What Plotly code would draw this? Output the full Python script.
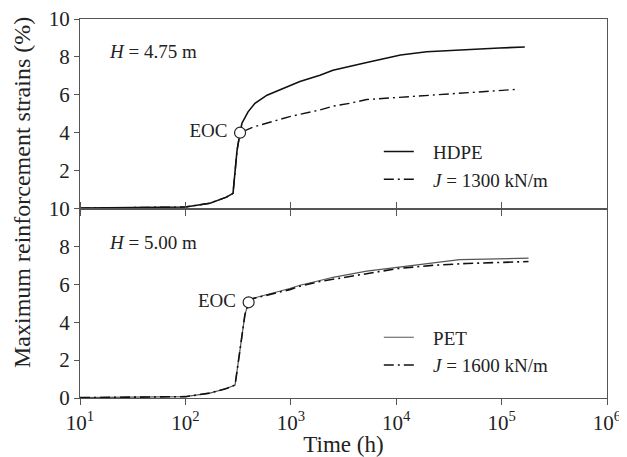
import plotly.graph_objects as go
from plotly.subplots import make_subplots

# top panel, H = 4.75 m
hdpe_t = [10, 30, 100, 171, 245, 283, 309, 330, 344, 393, 457, 594, 977, 1220, 1890,
          2510, 5250, 11000, 19500, 46800, 95500, 166000]
hdpe_s = [0.02, 0.05, 0.08, 0.28, 0.6, 0.8, 3.07, 4.0, 4.5, 5.1, 5.55, 5.98, 6.5, 6.7, 7.03,
          7.3, 7.7, 8.1, 8.27, 8.4, 8.47, 8.52]
j1300_t = [10, 30, 100, 171, 245, 283, 309, 330, 436, 977, 1890, 2510, 3630, 5250,
           11000, 20000, 47000, 134000]
j1300_s = [0.02, 0.05, 0.08, 0.28, 0.6, 0.8, 3.07, 4.0, 4.29, 4.85, 5.2, 5.4, 5.55, 5.75,
           5.87, 6.0, 6.14, 6.28]

# bottom panel, H = 5.00 m
pet_t = [10, 30, 100, 171, 245, 296, 367, 398, 436, 977, 1220, 1890, 2510, 5250,
         10300, 22000, 40000, 70000, 180000]
pet_s = [0.02, 0.04, 0.07, 0.26, 0.5, 0.68, 4.4, 5.05, 5.26, 5.78, 5.95, 6.2, 6.37, 6.7,
         6.9, 7.1, 7.3, 7.33, 7.38]
j1600_t = [10, 30, 100, 171, 245, 296, 367, 398, 436, 977, 1220, 1890, 2510, 5250,
           10300, 22000, 47000, 180000]
j1600_s = [0.02, 0.04, 0.07, 0.26, 0.5, 0.68, 4.4, 5.05, 5.24, 5.72, 5.9, 6.15, 6.27, 6.58,
           6.83, 7.0, 7.1, 7.2]

eoc_t = [330, 398]
eoc_s = [4.0, 5.05]

x_ticks = [10, 100, 1000, 10000, 100000, 1000000]
x_ticktext = ["10<sup>%d</sup>" % i for i in range(1, 7)]

FONT = "Liberation Serif"
DASHDOT = "10px,4px,2px,4px"
AXIS = "#555"
PAD = "\u00a0\u00a0\u00a0"  # pushes legend text away from the line sample

fig = make_subplots(rows=2, cols=1, shared_xaxes=True, vertical_spacing=0)

fig.add_trace(go.Scatter(x=hdpe_t, y=hdpe_s, mode="lines", name=PAD + "HDPE",
                         line=dict(color="#111", width=1.6), legend="legend"), row=1, col=1)
fig.add_trace(go.Scatter(x=j1300_t, y=j1300_s, mode="lines",
                         name=PAD + "<i>J</i> = 1300 kN/m",
                         line=dict(color="#111", width=1.4, dash=DASHDOT), legend="legend"),
              row=1, col=1)
fig.add_trace(go.Scatter(x=[eoc_t[0]], y=[eoc_s[0]], mode="markers+text", text=["EOC "],
                         textposition="middle left", showlegend=False,
                         textfont=dict(size=19, color="#222"),
                         marker=dict(symbol="circle", size=11, color="white",
                                     line=dict(color="#222", width=1.2))), row=1, col=1)

fig.add_trace(go.Scatter(x=pet_t, y=pet_s, mode="lines", name=PAD + "PET",
                         line=dict(color="#555", width=1.2), legend="legend2"), row=2, col=1)
fig.add_trace(go.Scatter(x=j1600_t, y=j1600_s, mode="lines",
                         name=PAD + "<i>J</i> = 1600 kN/m",
                         line=dict(color="#111", width=1.6, dash=DASHDOT), legend="legend2"),
              row=2, col=1)
fig.add_trace(go.Scatter(x=[eoc_t[1]], y=[eoc_s[1]], mode="markers+text", text=["EOC "],
                         textposition="middle left", showlegend=False,
                         textfont=dict(size=19, color="#222"),
                         marker=dict(symbol="circle", size=11, color="white",
                                     line=dict(color="#222", width=1.2))), row=2, col=1)

xcommon = dict(type="log", range=[1, 6], tickvals=x_ticks, ticktext=x_ticktext,
               showline=True, linecolor=AXIS, linewidth=1, ticks="outside", ticklen=6,
               tickcolor=AXIS, showgrid=False, zeroline=False, automargin=False,
               ticklabeloverflow="allow", tickfont=dict(size=21))
fig.update_xaxes(**xcommon, showticklabels=False, mirror=True, row=1, col=1)
fig.update_xaxes(**xcommon, mirror="ticks", title_text="Time (h)",
                 title_font=dict(size=23), title_standoff=1, row=2, col=1)

ycommon = dict(range=[0, 10], showline=True, linecolor=AXIS, linewidth=1.2, mirror=True,
               ticks="outside", ticklen=5, tickcolor=AXIS, showgrid=False, zeroline=False,
               automargin=False, ticklabeloverflow="allow", tickfont=dict(size=21))
fig.update_yaxes(**ycommon, tickvals=[2, 4, 6, 8, 10], row=1, col=1)
fig.update_yaxes(**ycommon, tickvals=[0, 2, 4, 6, 8, 10], row=2, col=1)

fig.add_annotation(text="<i>H</i> = 4.75 m", x=0.052, y=8.3, xref="x domain", yref="y",
                   xanchor="left", showarrow=False, font=dict(size=19))
fig.add_annotation(text="<i>H</i> = 5.00 m", x=0.052, y=8.2, xref="x2 domain", yref="y2",
                   xanchor="left", showarrow=False, font=dict(size=19))
# page has an 8px body margin, so the figure is 8px smaller and shifted
fig.add_annotation(text="Maximum reinforcement strains (%)",
                   x=(14 - 72) / 527, y=(390 - 185) / 379,
                   xref="paper", yref="paper", xanchor="center", yanchor="middle",
                   textangle=-90, showarrow=False, font=dict(size=24))

legend_style = dict(font=dict(size=19, family=FONT, color="#222"), bgcolor="rgba(0,0,0,0)",
                    itemwidth=30, tracegroupgap=0, xanchor="left", yanchor="top")

fig.update_layout(
    width=619, height=449,
    margin=dict(l=72, r=20, t=11, b=59),
    paper_bgcolor="white", plot_bgcolor="white",
    font=dict(family=FONT, size=21, color="#222"),
    legend=dict(**legend_style, x=0.567, y=0.70),
    legend2=dict(**legend_style, x=0.567, y=0.21),
)

fig.write_html("out.html")
